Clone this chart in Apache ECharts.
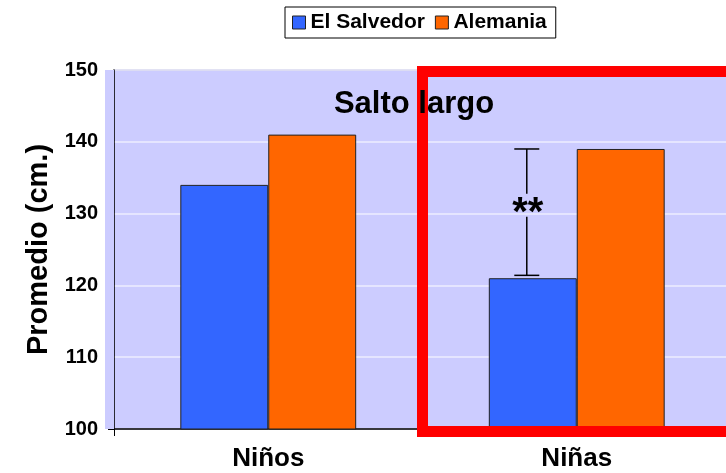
<!DOCTYPE html>
<html>
<head>
<meta charset="utf-8">
<script src="https://cdn.jsdelivr.net/npm/echarts@6/dist/echarts.min.js"></script>
<style>
  html, body { margin: 0; padding: 0; background: #fff; }
  #chart { width: 726px; height: 473px; }
</style>
</head>
<body>
<div id="chart"></div>
<script>
// datos
var categorias = ['Niños', 'Niñas']
var elSalvedor = [134, 121]
var alemania = [141, 139]
// barra de error sobre Niñas (El Salvedor)
var errorBar = [[1, 139, 121.4]]
var marcaSignif = '**'
var yTicks = { min: 100, max: 150, interval: 10 }

var fuente = "'Liberation Sans', Arial, sans-serif"
var chart = echarts.init(document.getElementById('chart'))

var option = {
  animation: false,
  title: {
    text: 'Salto largo',
    left: 409,
    top: 84,
    textAlign: 'center',
    z: 10,
    textStyle: { fontFamily: fuente, fontWeight: 'bold', fontSize: 31, color: '#000' }
  },
  legend: {
    left: 285,
    top: 7,
    padding: [5, 9, 5, 7],
    itemGap: 10,
    itemWidth: 13,
    itemHeight: 13,
    borderColor: '#000',
    borderWidth: 1,
    icon: 'rect',
    itemStyle: { borderColor: '#222', borderWidth: 1 },
    textStyle: { fontFamily: fuente, fontWeight: 'bold', fontSize: 21, color: '#000' },
    data: ['El Salvedor', 'Alemania']
  },
  grid: {
    left: 114,
    right: -5,
    top: 70,
    bottom: 44,
    outerBoundsMode: 'none',
    show: true,
    backgroundColor: '#CCCCFF',
    borderColor: '#8080a0',
    borderWidth: 1
  },
  xAxis: {
    type: 'category',
    data: categorias,
    axisLine: { lineStyle: { color: '#000', width: 1.5 } },
    axisTick: { show: true, length: 7, lineStyle: { color: '#000' } },
    axisLabel: { margin: 17, fontFamily: fuente, fontWeight: 'bold', fontSize: 26, color: '#000' }
  },
  yAxis: {
    type: 'value',
    min: yTicks.min,
    max: yTicks.max,
    interval: yTicks.interval,
    name: 'Promedio (cm.)',
    nameLocation: 'middle',
    nameRotate: 90,
    nameGap: 61,
    nameTextStyle: { fontFamily: fuente, fontWeight: 'bold', fontSize: 29, color: '#000' },
    axisLine: { show: true, lineStyle: { color: '#000', width: 1.5 } },
    axisTick: { show: true, length: 6, lineStyle: { color: '#000' } },
    axisLabel: { margin: 16, fontFamily: fuente, fontWeight: 'bold', fontSize: 20, color: '#000' },
    splitLine: { show: true, lineStyle: { color: '#EEEEFF', width: 1.5 } }
  },
  series: [
    {
      name: 'El Salvedor',
      type: 'bar',
      barGap: '0%',
      barCategoryGap: '43%',
      itemStyle: { color: '#3366FF', borderColor: '#222', borderWidth: 1 },
      data: elSalvedor
    },
    {
      name: 'Alemania',
      type: 'bar',
      barGap: '0%',
      barCategoryGap: '43%',
      itemStyle: { color: '#FF6600', borderColor: '#222', borderWidth: 1 },
      data: alemania
    },
    {
      name: 'error',
      type: 'custom',
      z: 4,
      encode: { x: 0, y: [1, 2] },
      data: errorBar,
      renderItem: function (params, api) {
        var banda = api.size([1, 0])[0]
        var anchoBarra = banda * 0.57 / 2
        var alto = api.coord([api.value(0), api.value(1)])
        var bajo = api.coord([api.value(0), api.value(2)])
        var x = alto[0] - anchoBarra / 2 - 6
        var yA = alto[1]
        var yB = bajo[1]
        var medio = (yA + yB) / 2
        var estilo = { stroke: '#000', lineWidth: 1.5 }
        return {
          type: 'group',
          children: [
            { type: 'line', shape: { x1: x, y1: yA, x2: x, y2: medio - 18.5 }, style: estilo },
            { type: 'line', shape: { x1: x, y1: medio + 4.5, x2: x, y2: yB }, style: estilo },
            { type: 'line', shape: { x1: x - 12.5, y1: yA, x2: x + 12.5, y2: yA }, style: estilo },
            { type: 'line', shape: { x1: x - 12.5, y1: yB, x2: x + 12.5, y2: yB }, style: estilo },
            {
              type: 'text',
              style: {
                text: marcaSignif, x: x + 1, y: medio + 2,
                textAlign: 'center', textVerticalAlign: 'middle',
                font: 'bold 40px ' + fuente, fill: '#000'
              }
            }
          ]
        }
      }
    }
  ]
}
chart.setOption(option)

// recuadro rojo que resalta la categoria Niñas
var c0 = chart.convertToPixel({ xAxisIndex: 0 }, categorias[0])
var c1 = chart.convertToPixel({ xAxisIndex: 0 }, categorias[1])
var banda = c1 - c0
var yTop = chart.convertToPixel({ yAxisIndex: 0 }, yTicks.max)
var yBot = chart.convertToPixel({ yAxisIndex: 0 }, yTicks.min)
chart.setOption({
  graphic: [
    {
      type: 'rect',
      z: 8,
      shape: { x: c1 - banda / 2, y: yTop + 1.5, width: banda + 20, height: yBot - yTop + 1 },
      style: { fill: 'none', stroke: '#FF0000', lineWidth: 11 }
    },
    {
      type: 'rect',
      z: 1,
      shape: { x: 105, y: yTop, width: 9, height: yBot - yTop },
      style: { fill: '#CCCCFF' }
    }
  ]
})
</script>
</body>
</html>
